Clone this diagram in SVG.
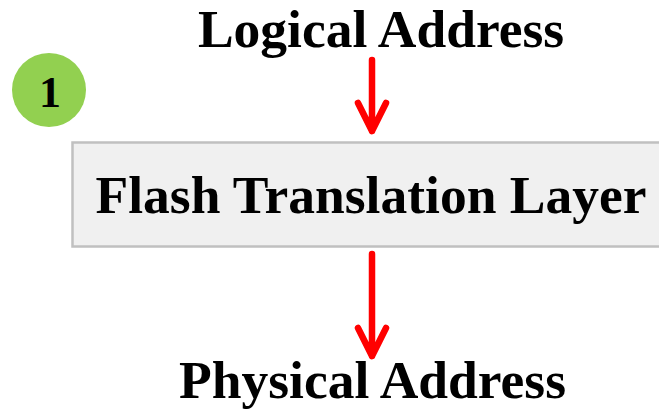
<svg xmlns="http://www.w3.org/2000/svg" width="659" height="411" viewBox="0 0 659 411">
  <style>
    .label { font-family: "Liberation Serif", "Times New Roman", serif; font-weight: bold; fill: #000; }
    .big { font-size: 53.5px; text-anchor: middle; }
    .flow { fill: none; stroke: #ff0000; stroke-width: 6.5; stroke-linecap: round; stroke-linejoin: round; }
  </style>
  <rect width="659" height="411" fill="#ffffff"/>

  <g id="step-badge">
    <circle cx="49" cy="90" r="37" fill="#92d050"/>
    <text class="label" x="50" y="107" font-size="44" text-anchor="middle">1</text>
  </g>

  <g id="logical-address">
    <text class="label big" x="381" y="47">Logical Address</text>
  </g>

  <g id="ftl">
    <rect x="72.5" y="142.5" width="600" height="104" fill="#f0f0f0" stroke="#c0c0c0" stroke-width="2.5"/>
    <text class="label big" x="371" y="213">Flash Translation Layer</text>
  </g>

  <g id="physical-address">
    <text class="label big" x="372.5" y="398">Physical Address</text>
  </g>

  <g id="connectors">
    <path class="flow" d="M372 60 V131 M358 103 L372 131 L386 103"/>
    <path class="flow" d="M372 254 V356 M358 328 L372 356 L386 328"/>
  </g>
</svg>
